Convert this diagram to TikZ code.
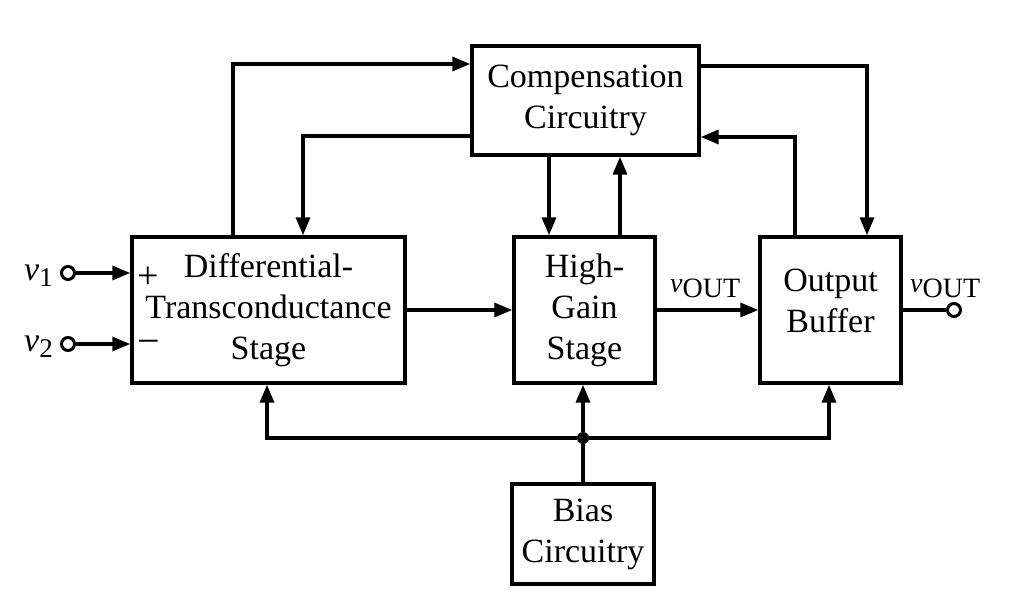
\documentclass[tikz,border=0pt]{standalone}
\usepackage{fontspec}
\setmainfont{Liberation Serif}
\usetikzlibrary{arrows.meta}
\begin{document}
\begin{tikzpicture}[x=1pt,y=-1pt,
  box/.style={draw,line width=3.4pt,inner sep=0pt,align=center,
    font=\fontsize{34}{41}\selectfont},
  wire/.style={line width=3.4pt},
  arr/.style={wire,-{Triangle[length=18pt,width=14pt]}},
  term/.style={circle,draw,line width=3pt,fill=white,minimum size=13pt,inner sep=0pt},
  lbl/.style={inner sep=0pt,font=\fontsize{34}{41}\selectfont}]
\useasboundingbox (0,0) rectangle (1016,596);
% boxes
\node[box,minimum width=227pt,minimum height=109pt] (comp) at (585.5,100.5) {Compensation\\Circuitry};
\node[box,minimum width=273pt,minimum height=146pt] (diff) at (268.5,310) {Differential-\\Transconductance\\Stage};
\node[box,minimum width=141pt,minimum height=146pt] (hg) at (584.5,310) {High-\\Gain\\Stage};
\node[box,minimum width=141pt,minimum height=146pt,
  label={[align=center,yshift=9pt,font=\fontsize{34}{41}\selectfont]center:Output\\Buffer}] (ob) at (830.5,310) {};
\node[box,minimum width=142pt,minimum height=100pt] (bias) at (583,534) {Bias\\Circuitry};
% helper coordinates
\coordinate (a1) at (233,64);
\coordinate (a2) at (303,136);
\coordinate (a3) at (549,0);
\coordinate (a4) at (620,0);
\coordinate (a5) at (867,66);
\coordinate (a6) at (795,137);
\coordinate (bl) at (267,438);
\coordinate (br) at (829,438);
% compensation loops
\draw[arr] (diff.north -| a1) |- (comp.west |- a1);
\draw[arr] (comp.west |- a2) -| (diff.north -| a2);
\draw[arr] (comp.south -| a3) -- (hg.north -| a3);
\draw[arr] (hg.north -| a4) -- (comp.south -| a4);
\draw[arr] (comp.east |- a5) -| (ob.north -| a5);
\draw[arr] (ob.north -| a6) |- (comp.east |- a6);
% signal path
\draw[arr] (diff.east) -- (hg.west);
\draw[arr] (hg.east) -- (ob.west);
\node[term] (out) at (954,310) {};
\draw[wire] (ob.east) -- (out);
\node[term] (in1) at (68,273) {};
\node[term] (in2) at (68,344) {};
\draw[arr] (in1) -- (diff.west |- in1);
\draw[arr] (in2) -- (diff.west |- in2);
% bias
\node[circle,fill,minimum size=12pt,inner sep=0pt] (j) at (583,438) {};
\draw[wire] (bias.north -| j) -- (j);
\draw[arr] (j) -- (hg.south -| j);
\draw[arr] (j) -| (diff.south -| bl);
\draw[arr] (j) -| (ob.south -| br);
% labels
\node[lbl,anchor=base east] (lv1) at (53,280) {\textit{v}\raisebox{-6pt}{\fontsize{27}{27}\selectfont 1}};
\node[lbl,anchor=base east] (lv2) at (53,351) {\textit{v}\raisebox{-6pt}{\fontsize{27}{27}\selectfont 2}};
\node[lbl,font=\fontsize{38}{38}\selectfont] (plus) at (148,278) {+};
\node[lbl,font=\fontsize{40}{40}\selectfont] (minus) at (149,347) {−};
\node[lbl,anchor=base west,font=\fontsize{28}{28}\selectfont] (vo1) at (670,292) {\textit{v}\raisebox{-5pt}{OUT}};
\node[lbl,anchor=base west,font=\fontsize{28}{28}\selectfont] (vo2) at (910,292) {\textit{v}\raisebox{-5pt}{OUT}};
\end{tikzpicture}
\end{document}
